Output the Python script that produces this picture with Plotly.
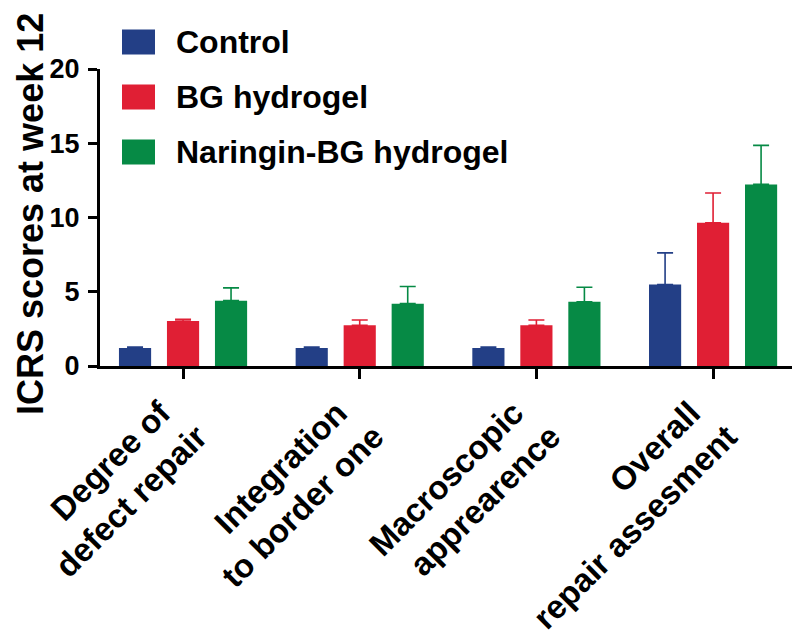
import plotly.graph_objects as go

NB = "\u00a0"
categories = ["Degree of" + NB + "<br>defect repair", "Integration" + NB + "<br>to border one",
              "Macroscopic" + NB + "<br>apprearence", "Overall" + NB + "<br>repair assesment"]
series_names = ["Control", "BG hydrogel", "Naringin-BG hydrogel"]
control_vals = [1.21, 1.21, 1.21, 5.49]
control_err = [0.07, 0.07, 0.07, 2.13]
bg_vals = [3.03, 2.74, 2.74, 9.64]
bg_err = [0.12, 0.36, 0.36, 2.01]
nar_vals = [4.40, 4.20, 4.32, 12.23]
nar_err = [0.86, 1.15, 0.98, 2.63]
y_ticks = [0, 5, 10, 15, 20]
y_title = "ICRS scores at week 12"

colors = ["#233F86", "#E01F34", "#068A45"]
FONT = "Arial, Liberation Sans, sans-serif"

fig = go.Figure()
for name, vals, errs, col in zip(series_names, [control_vals, bg_vals, nar_vals],
                                 [control_err, bg_err, nar_err], colors):
    fig.add_trace(go.Bar(
        x=categories, y=vals, name=name, marker_color=col,
        marker_line_width=0, showlegend=False,
        error_y=dict(type="data", array=errs, arrayminus=[0]*len(errs),
                     symmetric=False, color=col, thickness=1.6, width=8),
    ))

# page body has an 8px margin, so figure coords = reference coords - 8
W, H = 792, 630
L, R, T, B = 92, 789, 61, 358
PW, PH = R - L, B - T
leg_y = [34, 89, 144]
for name, col, yy in zip(series_names, colors, leg_y):
    fig.add_shape(type="rect", xref="paper", yref="paper",
                  x0=(114-L)/PW, x1=(147-L)/PW,
                  y0=1 - (yy - 12.5 - T) / PH, y1=1 - (yy + 12.5 - T) / PH,
                  fillcolor=col, line_width=0)
    fig.add_annotation(text="<b>%s</b>" % name, xref="paper", yref="paper",
                       x=(166-L)/PW, y=1 - (yy - T) / PH,
                       xanchor="left", yanchor="middle", showarrow=False,
                       font=dict(family=FONT, size=32, color="black"))

# y-axis title
fig.add_annotation(text="<b>%s</b>" % y_title, xref="paper", yref="paper",
                   x=(22-L)/PW, y=1 - (206 - T) / PH, textangle=-90,
                   xanchor="center", yanchor="middle", showarrow=False,
                   font=dict(family=FONT, size=36, color="black"))

fig.update_layout(
    width=W, height=H,
    margin=dict(l=L, r=W-R, t=T, b=H-B, autoexpand=False),
    plot_bgcolor="white", paper_bgcolor="white",
    barmode="group", bargap=0.185, bargroupgap=0.33,
    font=dict(family=FONT, color="black"),
)
fig.update_xaxes(
    range=[-0.47, 3.475], showline=True, linecolor="black", linewidth=3,
    ticks="outside", ticklen=10, tickwidth=3, tickcolor="black",
    tickangle=-45, tickfont=dict(family=FONT, size=33, color="black", weight="bold"),
    ticklabelshift=-16, ticklabelstandoff=-5,
    showgrid=False, zeroline=False, automargin=False,
)
fig.update_yaxes(
    range=[0, 20], tickvals=y_ticks, showline=True, linecolor="black", linewidth=3,
    ticks="outside", ticklen=9, tickwidth=3, tickcolor="black",
    tickfont=dict(family=FONT, size=27, color="black", weight="bold"),
    ticklabelstandoff=3,
    showgrid=False, zeroline=False, automargin=False,
)
fig.write_html("out.html")
